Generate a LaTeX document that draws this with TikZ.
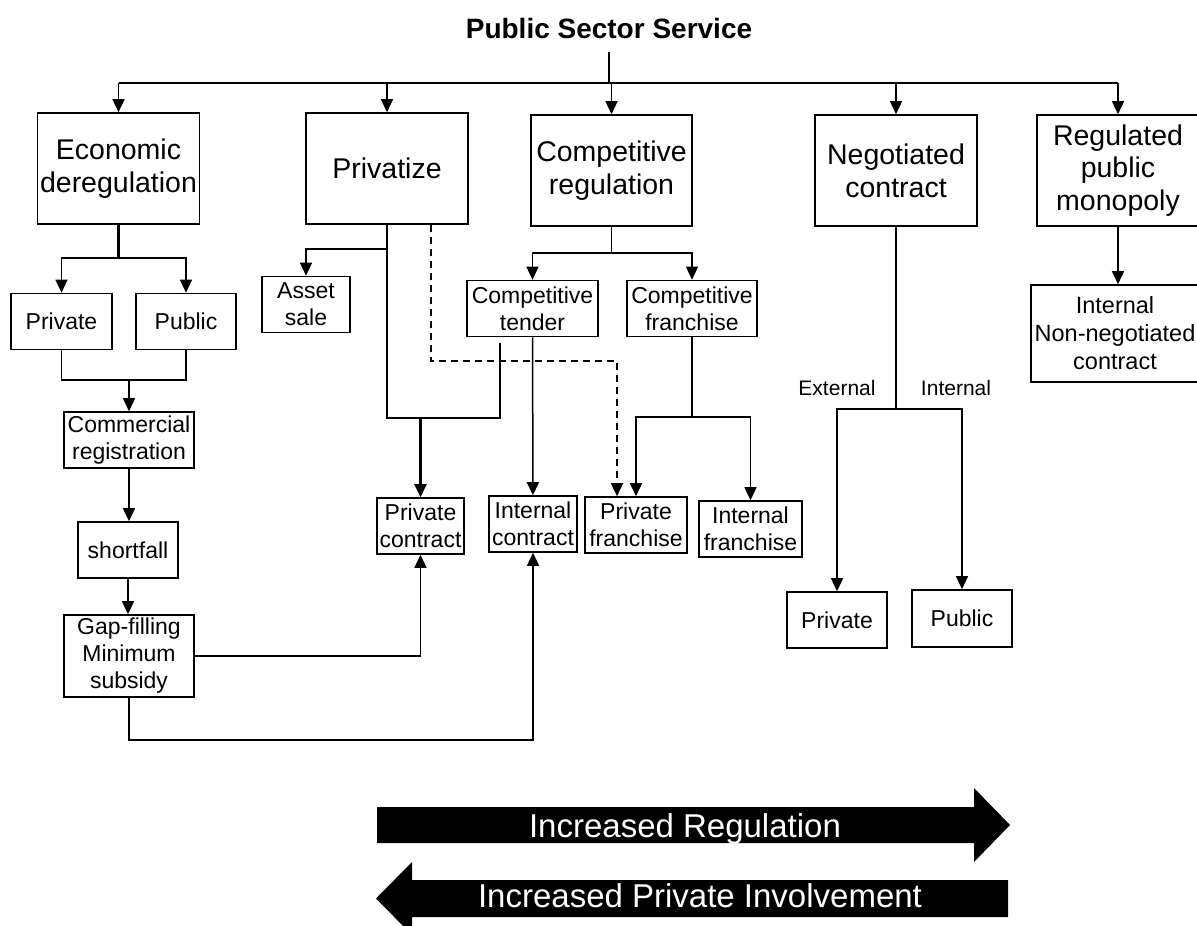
\documentclass[tikz,border=0pt]{standalone}
\usepackage{fontspec}
\setmainfont{Liberation Sans}
\usetikzlibrary{arrows.meta}

\begin{document}
\begin{tikzpicture}[x=1pt, y=-1pt, line width=1.5pt, >={Triangle[width=12pt,length=13pt]},
	bigbox/.style={draw, line width=1.6pt, minimum width=162pt, minimum height=111pt, inner sep=0pt, align=center, font=\fontsize{28.5}{33}\selectfont},
	smallbox/.style={draw, line width=1.6pt, minimum width=#1, minimum height=56pt, inner sep=0pt, align=center, font=\fontsize{23}{27}\selectfont},
	thickline/.style={line width=2.5pt},
	banner/.style={text=white, anchor=base, font=\fontsize{33}{40}\selectfont}]
	\useasboundingbox (0,0) rectangle (1197,926);
	\clip (0,0) rectangle (1197,926);

	\node[anchor=base, font=\bfseries\fontsize{28}{33}\selectfont] (title) at (609,38) {Public Sector Service};
	\coordinate (top) at (609,52);
	\coordinate (bus) at (609,83);

	\node[bigbox] (econ) at (118.5,168.5) {Economic\\deregulation};
	\node[bigbox] (priv) at (387,168.5) {Privatize};
	\node[bigbox, minimum width=161pt] (compreg) at (611.5,170.5) {Competitive\\regulation};
	\node[bigbox] (negot) at (896,170.5) {Negotiated\\contract};
	\node[bigbox, font=\fontsize{28.5}{32.5}\selectfont] (regmon) at (1118,170.5) {Regulated\\public\\monopoly};

	\node[smallbox=101pt] (pvtA) at (61.5,321.5) {Private};
	\node[smallbox=100pt] (pubA) at (186,321.5) {Public};
	\node[smallbox=88pt] (asset) at (306,304.5) {Asset\\sale};
	\node[smallbox=131pt] (tender) at (532.5,308.5) {Competitive\\tender};
	\node[smallbox=130pt] (cfran) at (692,308.5) {Competitive\\franchise};
	\node[smallbox=168pt, minimum height=97pt, font=\fontsize{23.5}{28}\selectfont] (intnn) at (1115,333.5) {Internal\\Non-negotiated\\contract};
	\node[smallbox=130pt] (comreg) at (129,440) {Commercial\\registration};
	\node[smallbox=100pt] (shortf) at (128,550) {shortfall};
	\node[smallbox=130pt, minimum height=82pt] (gapfill) at (129,656) {Gap-filling\\Minimum\\subsidy};
	\node[smallbox=87pt] (pcon) at (420.5,526) {Private\\contract};
	\node[smallbox=88pt] (icon) at (533,524) {Internal\\contract};
	\node[smallbox=102pt] (pfran) at (636,525) {Private\\franchise};
	\node[smallbox=103pt] (ifran) at (750.5,529) {Internal\\franchise};
	\node[smallbox=100pt] (pvtB) at (837,620) {Private};
	\node[smallbox=100pt, minimum height=57pt] (pubB) at (962,618.5) {Public};

	\node[font=\fontsize{21}{25}\selectfont] (ext) at (837,388) {External};
	\node[font=\fontsize{21}{25}\selectfont] (int) at (956,388) {Internal};

	\draw[line width=1.8pt] (top) -- (bus);
	\draw[line width=1.8pt] (econ.north |- bus) -- (regmon.north |- bus);
	\foreach \n in {econ,priv,compreg,negot,regmon}
		\draw[->] (\n.north |- bus) -- (\n.north);

	\coordinate (e1) at (118.5,258);
	\draw[thickline] (econ) -- (e1);
	\draw[->] (e1) -| (pvtA);
	\draw[->] (e1) -| (pubA);
	\coordinate (m1) at (129,380);
	\draw (pvtA) |- (m1);
	\draw (pubA) |- (m1);
	\draw[->] (m1) -- (comreg);
	\draw[->] (comreg) -- (comreg.south |- shortf.north);
	\draw[->] (shortf) -- (shortf.north |- gapfill.north);
	\draw[->] (gapfill) -| (pcon);
	\draw[->] (gapfill.south) -- ++(0,42) -| (icon.south);

	\coordinate (p1) at (387,249);
	\coordinate (p2) at (387,418);
	\coordinate (tfree) at (500,343);
	\draw (priv) -- (p1);
	\draw[->] (p1) -| (asset);
	\draw (p1) -- (p2) -| (tfree);
	\draw[->, thickline] (pcon.north |- p2) -- (pcon.north);
	\coordinate (d1) at (617,361);
	\draw[dash pattern=on 7pt off 5pt, ->] (priv.south -| 431,0) |- (d1) -- (d1 |- pfran.north);

	\coordinate (c1) at (611.5,253);
	\draw (compreg) -- (c1);
	\draw[->] (c1) -| (tender);
	\draw[->] (c1) -| (cfran);
	\draw[->] (tender) -- (icon);
	\coordinate (f1) at (692,417);
	\draw (cfran) -- (f1);
	\draw[->] (f1) -| (pfran);
	\draw[->] (f1) -| (ifran);

	\coordinate (n1) at (896,409);
	\draw (negot) -- (n1);
	\draw[->] (n1) -| (pvtB);
	\draw[->] (n1) -| (pubB);
	\draw[->] (regmon) -- (regmon.south |- intnn.north);

	\fill (377,807) -- (974,807) -- (974,788) -- (1010,825) -- (974,862) -- (974,843) -- (377,843) -- cycle;
	\node[banner] (regtext) at (685,837) {Increased Regulation};
	\fill (1008,880) -- (412,880) -- (412,862) -- (376,898.5) -- (412,935) -- (412,917) -- (1008,917) -- cycle;
	\node[banner] (pvttext) at (700,907) {Increased Private Involvement};
\end{tikzpicture}
\end{document}
